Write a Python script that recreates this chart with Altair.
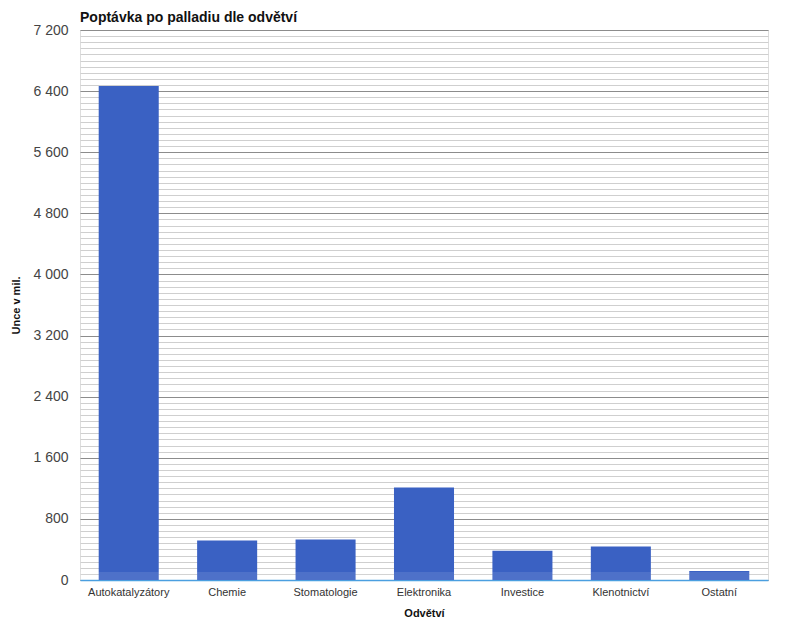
import altair as alt
import pandas as pd

categories = ["Autokatalyzátory", "Chemie", "Stomatologie", "Elektronika", "Investice", "Klenotnictví", "Ostatní"]
values = [6466, 518, 531, 1212, 382, 439, 119]
major_ticks = [0, 800, 1600, 2400, 3200, 4000, 4800, 5600, 6400, 7200]
minor_ticks = list(range(0, 7201, 80))

df = pd.DataFrame({"odvetvi": categories, "unce": values})

FONT = "Liberation Sans"
W, H = 688, 550

xenc = alt.X("odvetvi:N", sort=categories, title="Odvětví",
             scale=alt.Scale(paddingInner=0.39, paddingOuter=0.19),
             axis=alt.Axis(labelAngle=0, labelFont=FONT, labelFontSize=11, labelColor="#333333",
                           labelPadding=6, ticks=False, domainColor="#4a9fe0", domainWidth=1.5,
                           titleFont=FONT, titleFontSize=11, titleFontWeight="bold",
                           titleColor="#111111", titlePadding=10))

yscale = alt.Scale(domain=[0, 7200], nice=False)

minor = alt.Chart(df).mark_bar(opacity=0).encode(
    x=xenc,
    y=alt.Y("unce:Q", scale=yscale, title=None,
            axis=alt.Axis(orient="left", values=minor_ticks, labels=False, ticks=False, domain=False,
                          grid=True, gridColor="#cfcfcf", gridWidth=1, title=None)),
)

bars = alt.Chart(df).mark_bar(color="#3a61c3").encode(
    x=xenc,
    y=alt.Y("unce:Q", scale=yscale, title="Unce v mil.",
            axis=alt.Axis(orient="left", values=major_ticks, grid=True, gridColor="#8c8c8c", gridWidth=1,
                          ticks=False, domain=False, labelFont=FONT, labelFontSize=14,
                          labelColor="#444444", labelPadding=12,
                          labelExpr="replace(format(datum.value, ','), ',', ' ')",
                          titleFont=FONT, titleFontSize=11, titleFontWeight="bold",
                          titleColor="#111111", titlePadding=11)),
)

floor = alt.Chart(pd.DataFrame({"k": [0]})).mark_rect(color="white", opacity=0.1).encode(
    x=alt.value(0), x2=alt.value(W), y=alt.value(H - 8), y2=alt.value(H)
)

chart = alt.layer(minor, bars, floor).resolve_axis(y="independent").properties(
    width=W, height=H,
    autosize=alt.AutoSizeParams(type="none"),
    padding={"left": 72, "top": 22, "right": 24, "bottom": 42},
    title=alt.TitleParams("Poptávka po palladiu dle odvětví", anchor="start", font=FONT,
                          fontSize=14, fontWeight="bold", color="#111111", offset=4, dy=6,
                          frame="group"),
).configure_view(fill="#e6e6e6", stroke="#4a9fe0", strokeWidth=1.5).configure(background="white")

chart.save("out.html", embed_options={"renderer": "svg", "actions": False})
